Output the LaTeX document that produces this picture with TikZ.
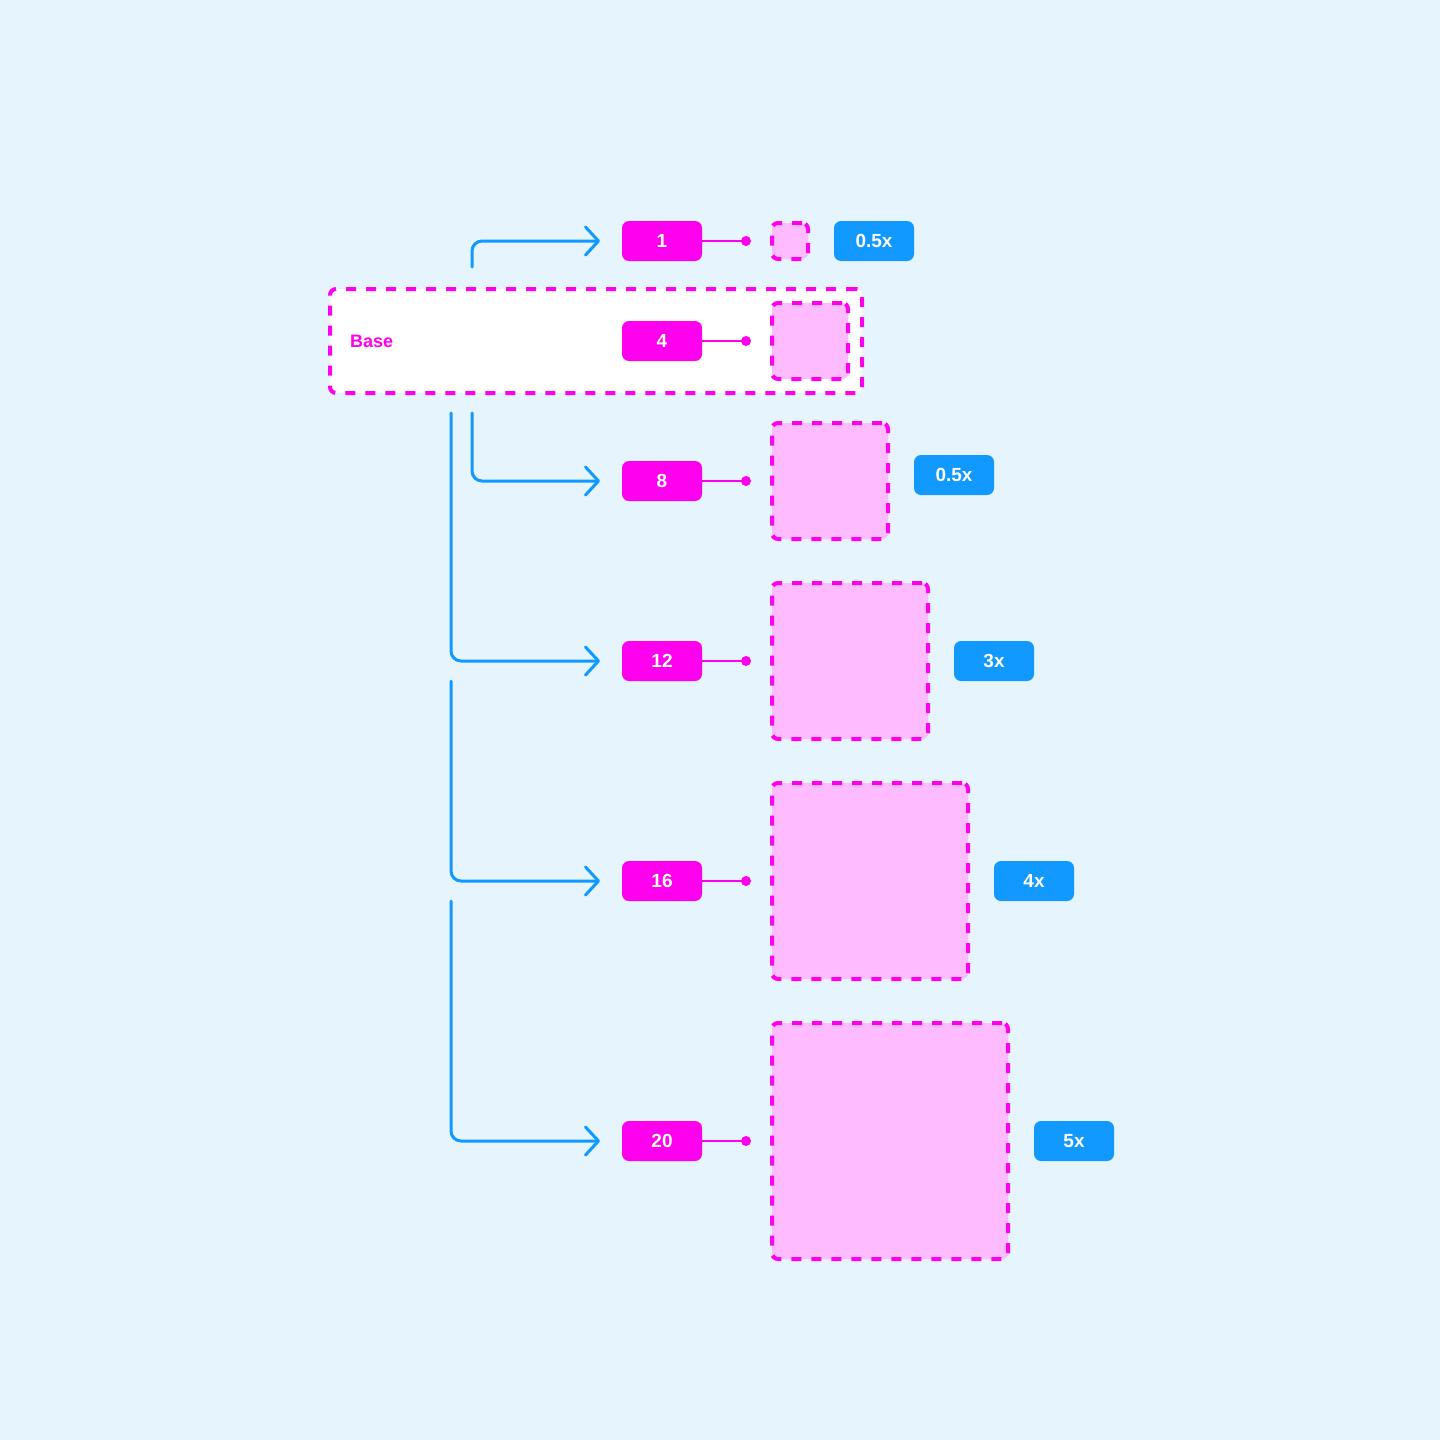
\documentclass[tikz,border=0pt]{standalone}
\usepackage{fontspec}
\setmainfont{Liberation Sans}
\usetikzlibrary{arrows.meta, positioning}

\definecolor{bgsky}{RGB}{230,244,253}
\definecolor{sizepink}{RGB}{255,0,238}
\definecolor{tilepink}{RGB}{255,187,255}
\definecolor{flowblue}{RGB}{17,153,255}

\begin{document}
\begin{tikzpicture}[x=1pt,y=-1pt,
    pill/.style={fill=sizepink, rounded corners=7pt, minimum width=80pt, minimum height=40pt,
        inner sep=0pt, outer sep=0pt, text=white, font=\bfseries\fontsize{19}{19}\selectfont},
    mult/.style={pill, fill=flowblue},
    tile/.style={draw=sizepink, fill=tilepink, line width=4pt, dash pattern=on 10pt off 10pt,
        rounded corners=6pt, inner sep=0pt, outer sep=0pt},
    basebox/.style={tile, fill=white},
    link/.style={draw=sizepink, line width=2pt},
    flow/.style={draw=flowblue, line width=3pt, rounded corners=10pt, line cap=round,
        shorten >=22pt, -{Straight Barb[length=13pt,width=28pt,line cap=round,round]}}
]

% Background
\fill[bgsky] (0,0) rectangle (1440,1440);

% Base group
\node[basebox, minimum width=532pt, minimum height=104pt] (base) at (596,341) {};
\node[anchor=west, inner sep=0pt, text=sizepink, font=\bfseries\fontsize{18}{18}\selectfont] (basel) at (350,341) {Base};

% Size pills
\foreach \n/\y in {1/241, 4/341, 8/481, 12/661, 16/881, 20/1141}
{
    \node[pill] (p\n) at (662,\y) {\n};
    \draw[link] (p\n.east) -- ++(44,0) coordinate (d\n);
    \fill[sizepink] (d\n) circle (5pt);
}

% Preview tiles
\foreach \n/\y/\s in {1/241/40, 4/341/80, 8/481/120, 12/661/160, 16/881/200, 20/1141/240}
{
    \node[tile, anchor=west, minimum size={(\s-4)*1pt}] (s\n) at (772,\y) {};
}

% Multiplier labels
\foreach \n/\dy/\t in {1/0/0.5x, 8/6/0.5x, 12/0/3x, 16/0/4x, 20/0/5x}
{
    \node[mult, right=26pt of s\n, yshift=\dy pt] (m\n) {\t};
}

% Flow arrows
\coordinate (a1) at (472,267);
\coordinate (a8) at (472,413);
\coordinate (a12) at (451,413);
\coordinate (a16) at (451,681);
\coordinate (a20) at (451,901);
\foreach \n in {1,8,12,16,20}
{
    \draw[flow] (a\n) |- (p\n);
}

\end{tikzpicture}
\end{document}
